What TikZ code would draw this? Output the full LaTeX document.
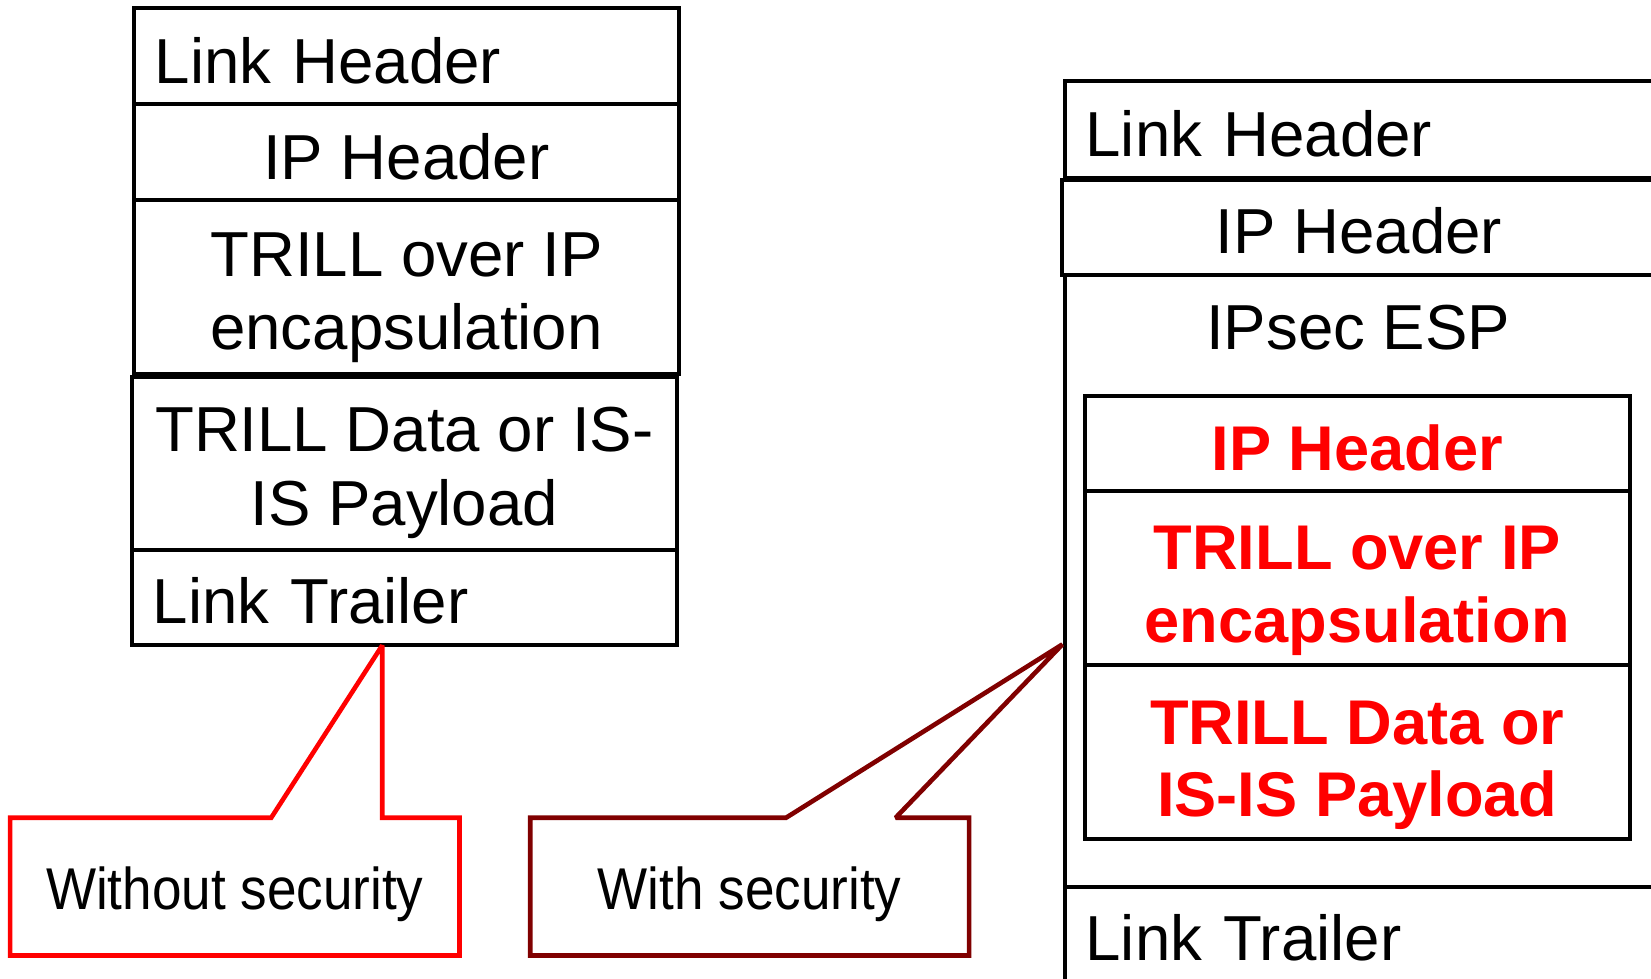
\documentclass[tikz,border=0pt]{standalone}
\usepackage{fontspec}
\setmainfont{Liberation Sans}
\newfontfamily\narrowsans[FakeStretch=0.9]{Liberation Sans}
\usetikzlibrary{calc}
\definecolor{darkred}{HTML}{800000}
% invisible strut that pushes a line of text down
\newcommand\strutto[1]{\rule{0pt}{#1}}

\begin{document}
\begin{tikzpicture}[x=0.5pt,y=-0.5pt,
		layer/.style={draw,line width=1.9pt,inner sep=0pt,outer sep=0pt,align=center,
			minimum width=259pt,font=\fontsize{30.2}{35}\selectfont},
		lefttext/.style={text width=239pt,align=left,inner xsep=10pt},
		secure/.style={layer,text=red,font=\fontsize{30}{34.5}\selectfont\bfseries},
		calloutbox/.style={minimum width=#1,minimum height=65pt,inner sep=0pt,
			font=\fontsize{28}{32}\selectfont\narrowsans},
		calloutline/.style={line width=2.2pt,line join=miter,miter limit=2}]
	\useasboundingbox (0,0) rectangle (1568,929);

	% frame without security
	\node[layer,lefttext,minimum height=45.5pt] (lhL) at (386,53.5) {\strutto{26pt}Link Header};
	\node[layer,minimum height=45.5pt] (ipL) at (386,144.5) {\strutto{26pt}IP Header};
	\node[layer,minimum height=82.5pt] (encL) at (386,272.5) {\strutto{31pt}TRILL over IP\\encapsulation};
	\node[layer,minimum height=82pt] (dataL) at (384,440) {\strutto{30pt}TRILL Data or IS-\\IS Payload};
	\node[layer,lefttext,minimum height=45.5pt] (trL) at (384,567.5) {\strutto{25pt}Link Trailer};

	% frame with security
	\node[layer,lefttext,minimum width=280.5pt,text width=260.5pt,minimum height=46pt] (lhR) at (1291.5,123) {\strutto{26pt}Link Header};
	\node[layer,minimum width=281.5pt,minimum height=45pt] (ipR) at (1290.5,216) {\strutto{25pt}IP Header};
	\node[layer,minimum width=280.5pt,minimum height=290.5pt] (espR) at (1291.5,551.5) {};
	\node[anchor=base,font=\fontsize{30.2}{35}\selectfont] (esptxt) at (1290,332) {IPsec ESP};
	\node[secure,minimum height=45pt] (ipS) at (1289,421) {\strutto{26pt}IP Header};
	\node[secure,minimum height=83pt] (encS) at (1289,549) {\strutto{33pt}TRILL over IP\\encapsulation};
	\node[secure,minimum height=82.5pt] (dataS) at (1289,714.5) {\strutto{33pt}TRILL Data or\\IS-IS Payload};
	\node[layer,lefttext,minimum width=280.5pt,text width=260.5pt,minimum height=49pt] (trR) at (1291.5,891) {Link Trailer};

	% callouts
	\path (trL.south west) ++(238,0) coordinate (tipA);
	\path (espR.north west) ++(-2,351) coordinate (tipB);

	\node[calloutbox=213pt] (nosec) at (223,842) {\strutto{28pt}Without security};
	\draw[calloutline,red] (nosec.north west) -- ($(nosec.north west)+(248,0)$) -- (tipA)
		-- (tipA |- nosec.north) -- (nosec.north east) -- (nosec.south east)
		-- (nosec.south west) -- cycle;

	\node[calloutbox=208pt] (withsec) at (712,842) {\strutto{28pt}With security};
	\draw[calloutline,darkred] (withsec.north west) -- ($(withsec.north west)+(243,0)$) -- (tipB)
		-- ($(withsec.north west)+(347,0)$) -- (withsec.north east) -- (withsec.south east)
		-- (withsec.south west) -- cycle;
\end{tikzpicture}
\end{document}
